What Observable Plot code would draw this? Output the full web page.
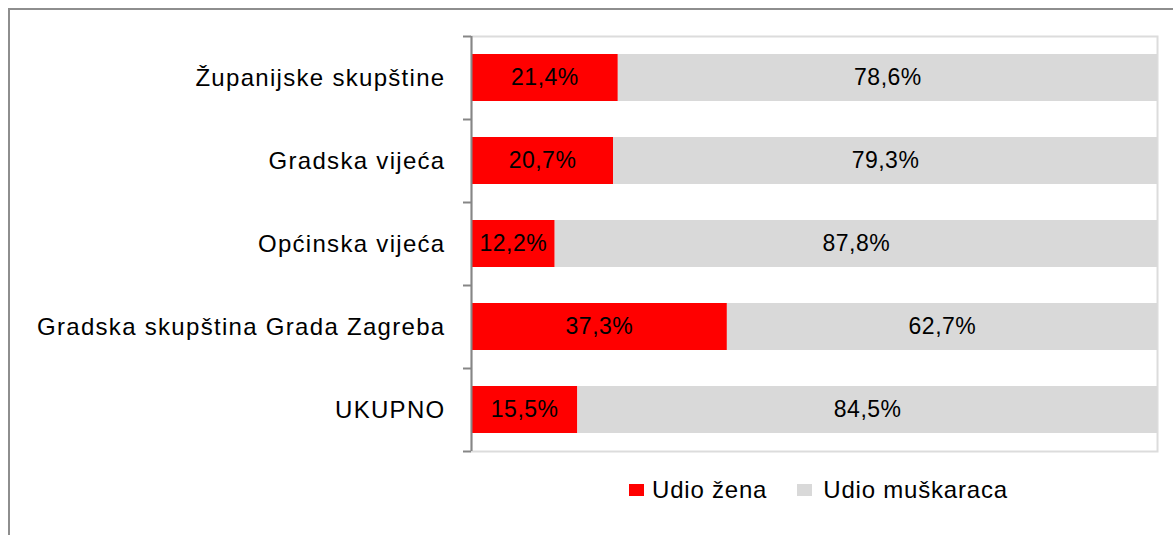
<!DOCTYPE html>
<html><head><meta charset="utf-8">
<script src="https://cdn.jsdelivr.net/npm/d3@7"></script>
<script src="https://cdn.jsdelivr.net/npm/@observablehq/plot@0.6"></script>
<style>
body{margin:0;background:#fff;font-family:"Liberation Sans",Arial,sans-serif;}
#wrap{position:relative;width:1173px;height:535px;overflow:hidden;}
#border{position:absolute;left:8px;top:8px;width:1300px;height:700px;border-left:2px solid #8e8e8e;border-top:2px solid #8e8e8e;}
#chart{position:absolute;left:0;top:0;}
#legend{position:absolute;left:629px;top:476px;display:flex;align-items:center;font-size:24px;letter-spacing:0.8px;color:#000;}
.sw{display:inline-block;width:15px;height:12px;margin-right:8px;}
.item{display:flex;align-items:center;margin-right:30px;}
.item:last-child .sw{margin-right:11px;}
</style></head><body>
<div id="wrap"><div id="border"></div><div id="chart"></div><div id="legend"></div></div>
<script>
const categories = ["Županijske skupštine", "Gradska vijeća", "Općinska vijeća", "Gradska skupština Grada Zagreba", "UKUPNO"];
const udioZena = [21.4, 20.7, 12.2, 37.3, 15.5];
const udioMuskaraca = [78.6, 79.3, 87.8, 62.7, 84.5];
const series = ["Udio žena", "Udio muškaraca"];
const colors = ["#ff0000", "#d9d9d9"];

const data = [];
categories.forEach((c, i) => {
  data.push({cat: c, series: series[0], value: udioZena[i]});
  data.push({cat: c, series: series[1], value: udioMuskaraca[i]});
});

const W = 1173, H = 464, mT = 36, mB = 13, mL = 471, mR = 16;
const step = (H - mT - mB) / categories.length;
const fmt = v => v.toFixed(1).replace(".", ",") + "%";
const axisColor = "#868686";

const chart = Plot.plot({
  width: W, height: H, marginTop: mT, marginBottom: mB, marginLeft: mL, marginRight: mR,
  style: {fontFamily: '"Liberation Sans", Arial, sans-serif', fontSize: "24px", color: "#000", background: "transparent", overflow: "visible"},
  x: {domain: [0, 100], axis: null},
  y: {domain: categories, paddingInner: 0.43, paddingOuter: 0.215, axis: null},
  color: {domain: series, range: colors},
  marks: [
    Plot.frame({stroke: "#dcdcdc", strokeWidth: 2}),
    Plot.barX(data, Plot.stackX({x: "value", y: "cat", fill: "series"})),
    Plot.text(data, Plot.stackX({x: "value", y: "cat", z: "series", text: d => fmt(d.value), fill: "#000", fontSize: 23})),
    Plot.ruleX([0], {stroke: axisColor, strokeWidth: 2}),
    Plot.axisY({tickSize: 0, tickPadding: 26, fontSize: 24, label: null, fill: "#000"}),
    Plot.axisY({tickSize: 8, fill: "none", label: null, dy: -step / 2, stroke: axisColor, strokeWidth: 2}),
    Plot.axisY({ticks: [categories[categories.length - 1]], tickSize: 8, fill: "none", label: null, dy: step / 2, stroke: axisColor, strokeWidth: 2})
  ]
});
// letter spacing to match the slightly wide text of the original
chart.querySelectorAll("g[aria-label='y-axis tick label'] text").forEach(t => t.style.letterSpacing = "1.3px");
chart.querySelectorAll("g[aria-label='text'] text").forEach(t => t.style.letterSpacing = "0.5px");
document.getElementById("chart").appendChild(chart);

const legend = document.getElementById("legend");
series.forEach((s, i) => {
  const item = document.createElement("div");
  item.className = "item";
  const sw = document.createElement("span");
  sw.className = "sw";
  sw.style.background = colors[i];
  const t = document.createElement("span");
  t.textContent = s;
  item.appendChild(sw);
  item.appendChild(t);
  legend.appendChild(item);
});
</script>
</body></html>
